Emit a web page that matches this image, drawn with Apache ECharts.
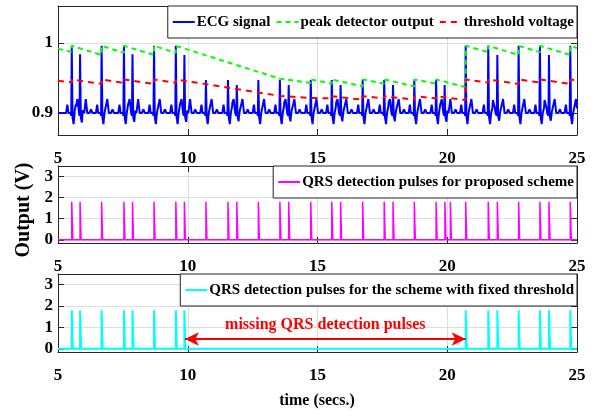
<!DOCTYPE html>
<html>
<head>
<meta charset="utf-8">
<script src="https://cdn.jsdelivr.net/npm/echarts@6/dist/echarts.min.js"></script>
<style>
  html, body { margin: 0; padding: 0; background: #fff; }
  #chart { width: 597px; height: 417px; }
</style>
</head>
<body>
<div id="chart"></div>
<script>
// beats (secs.) and their R-peak level (V)
var beatTimes = [5.53, 5.85, 6.68, 7.54, 7.87, 8.70, 9.54, 9.87, 10.70, 11.55, 11.89, 12.72, 13.55, 13.89, 14.74,
  15.55, 15.89, 16.74, 17.57, 17.91, 18.73, 19.57, 19.90, 20.71, 21.58, 21.93, 22.75, 23.57, 23.92, 24.74];
var beatPeaks = [0.996, 0.984, 0.996, 0.996, 0.984, 0.996, 0.996, 0.983, 0.947, 0.947, 0.940, 0.947, 0.947, 0.940, 0.947,
  0.947, 0.940, 0.947, 0.947, 0.940, 0.947, 0.947, 0.940, 0.996, 0.996, 0.983, 0.996, 0.996, 0.983, 0.996];
var ecgBase = 0.9;
// one beat: offset (s) and level above baseline (V); R knot takes the beat peak
var shapeDt = [-0.22, -0.17, -0.13, -0.09, -0.04, -0.02, 0, 0.03, 0.07, 0.11, 0.16, 0.22, 0.28, 0.36, 0.42, 0.48];
var shapeDv = [0, 0.012, 0, 0, 0, -0.004, 0, -0.006, -0.016, 0, 0, 0.02, 0, 0, 0.005, 0];
var rKnot = 6;

// peak detector output (green) and threshold voltage (red) break points
var envT = [5.0, 5.53, 5.53, 6.68, 6.68, 7.54, 7.54, 8.70, 8.70, 9.54, 9.54, 13.55, 14.74, 14.74, 15.55, 15.55,
  16.74, 16.74, 17.57, 17.57, 18.73, 18.73, 19.57, 19.57, 20.71, 20.71, 21.58, 21.58, 22.75, 22.75, 23.57, 23.57,
  24.74, 24.74, 25.0];
var peakV = [0.992, 0.987, 0.996, 0.983, 0.996, 0.986, 0.996, 0.983, 0.996, 0.986, 0.996, 0.949, 0.943, 0.948, 0.942, 0.948,
  0.938, 0.948, 0.942, 0.948, 0.938, 0.948, 0.942, 0.948, 0.937, 0.996, 0.987, 0.996, 0.983, 0.996, 0.987, 0.996,
  0.983, 0.996, 0.993];
var threshV = [0.946, 0.944, 0.948, 0.9415, 0.948, 0.943, 0.948, 0.9415, 0.948, 0.943, 0.948, 0.9245, 0.9215, 0.924, 0.921, 0.924,
  0.919, 0.924, 0.921, 0.924, 0.919, 0.924, 0.921, 0.924, 0.9185, 0.948, 0.9435, 0.948, 0.9415, 0.948, 0.9435, 0.948,
  0.9415, 0.948, 0.9465];

// QRS detection pulses
var proposedPulses = [5.53, 5.85, 6.68, 7.54, 7.87, 8.70, 9.54, 9.87, 10.70, 11.55, 11.89, 12.72, 13.55, 13.89, 14.74,
  15.55, 15.89, 16.74, 17.57, 17.91, 18.73, 19.57, 19.91, 20.12, 20.71, 21.58, 21.93, 22.75, 23.57, 23.92, 24.74];
var fixedPulses = [5.53, 5.85, 6.68, 7.54, 7.87, 8.70, 9.54, 9.87, 20.71, 21.58, 21.93, 22.75, 23.57, 23.92, 24.74];
var pulseHeight = 1.8;
var pulseWidth = 0.04;

// missing pulses annotation
var missSpan = [9.89, 20.71];
var missLevel = 0.46;

var ecgTicks = [0.9, 1];
var pulseTicks = [0, 1, 2, 3];

var FONT = 'Liberation Serif';

function shapeAt(dt, amp) {
  if (dt <= shapeDt[0] || dt >= shapeDt[shapeDt.length - 1]) return 0;
  for (var i = 0; i < shapeDt.length - 1; i++) {
    if (dt >= shapeDt[i] && dt <= shapeDt[i + 1]) {
      var a = i == rKnot ? amp : shapeDv[i];
      var b = (i + 1) == rKnot ? amp : shapeDv[i + 1];
      var f = (dt - shapeDt[i]) / (shapeDt[i + 1] - shapeDt[i]);
      return a + (b - a) * f;
    }
  }
  return 0;
}

function ecgData() {
  var knots = [5, 25];
  beatTimes.forEach(function (t) {
    shapeDt.forEach(function (d) { knots.push(+(t + d).toFixed(3)); });
  });
  knots = knots.filter(function (k) { return k >= 5 && k <= 25; });
  knots.sort(function (a, b) { return a - b; });
  var out = [];
  var last = null;
  knots.forEach(function (k) {
    if (k === last) return;
    last = k;
    var v = ecgBase;
    for (var b = 0; b < beatTimes.length; b++) {
      v += shapeAt(k - beatTimes[b], beatPeaks[b] - ecgBase);
    }
    out.push([k, v]);
  });
  return out;
}

function pulseData(times) {
  var out = [[5, 0]];
  times.forEach(function (t) {
    out.push([t, 0], [t, pulseHeight], [t + pulseWidth, pulseHeight], [t + pulseWidth, 0]);
  });
  out.push([25, 0]);
  return out;
}

function zip(a, b) {
  return a.map(function (v, i) { return [v, b[i]]; });
}

var labelFont = { fontFamily: FONT, fontWeight: 'bold', fontSize: 17, color: '#000' };
var axisColor = '#262626';

function xAx(grid, main) {
  return {
    type: 'value', gridIndex: grid, min: 5, max: 25, interval: 5,
    position: main ? 'bottom' : 'top',
    axisLine: { show: true, onZero: false, lineStyle: { color: axisColor, width: 1 } },
    axisTick: { show: true, inside: true, length: 6, lineStyle: { color: axisColor } },
    axisLabel: Object.assign({ show: main, margin: 15 }, labelFont),
    splitLine: { show: main, lineStyle: { color: '#dedede', width: 1 } }
  };
}

function yAx(grid, main, min, max, ticks) {
  return {
    type: 'value', gridIndex: grid, min: min, max: max,
    position: main ? 'left' : 'right',
    axisLine: { show: true, onZero: false, lineStyle: { color: axisColor, width: 1 } },
    axisTick: { show: true, inside: true, length: 6, customValues: ticks, lineStyle: { color: axisColor } },
    axisLabel: Object.assign({ show: main, margin: 5, customValues: ticks }, labelFont),
    splitLine: { show: main, lineStyle: { color: '#dedede', width: 1 } }
  };
}

var legendBase = {
  orient: 'horizontal', right: 20, itemWidth: 22, itemHeight: 14, itemGap: 5,
  padding: [7, 3, 7, 4], borderColor: '#222', borderWidth: 1, backgroundColor: '#fff',
  selectedMode: false,
  itemStyle: { opacity: 0 },
  textStyle: { fontFamily: FONT, fontWeight: 'bold', fontSize: 15, color: '#000', lineHeight: 18, padding: [0, 0, 0, -3] }
};

var chart = echarts.init(document.getElementById('chart'), null, { renderer: 'canvas' });
chart.setOption({
  animation: false,
  backgroundColor: '#fff',
  grid: [
    { left: 58, top: 6, width: 519, height: 129 },
    { left: 58, top: 166, width: 519, height: 77 },
    { left: 58, top: 274, width: 519, height: 78 }
  ],
  xAxis: [xAx(0, true), xAx(0, false), xAx(1, true), xAx(1, false), xAx(2, true), xAx(2, false)],
  yAxis: [
    yAx(0, true, 0.8686, 1.0529, ecgTicks), yAx(0, false, 0.8686, 1.0529, ecgTicks),
    yAx(1, true, -0.15, 3.5, pulseTicks), yAx(1, false, -0.15, 3.5, pulseTicks),
    yAx(2, true, -0.15, 3.5, pulseTicks), yAx(2, false, -0.15, 3.5, pulseTicks)
  ],
  legend: [
    Object.assign({}, legendBase, { top: 6, data: ['ECG signal', 'peak detector output', 'threshold voltage'] }),
    Object.assign({}, legendBase, { top: 166, data: ['QRS detection pulses for proposed scheme'] }),
    Object.assign({}, legendBase, { top: 274, data: ['QRS detection pulses for the scheme with fixed threshold'] })
  ],
  series: [
    {
      name: 'ECG signal', type: 'line', xAxisIndex: 0, yAxisIndex: 0, symbol: 'none',
      data: ecgData(), lineStyle: { color: '#0000ff', width: 2 }, itemStyle: { color: '#0000ff' }
    },
    {
      name: 'peak detector output', type: 'line', xAxisIndex: 0, yAxisIndex: 0, symbol: 'none',
      data: zip(envT, peakV), lineStyle: { color: '#00ff00', width: 2, type: [5, 4] }, itemStyle: { color: '#00ff00' }
    },
    {
      name: 'threshold voltage', type: 'line', xAxisIndex: 0, yAxisIndex: 0, symbol: 'none',
      data: zip(envT, threshV), lineStyle: { color: '#ff0000', width: 2, type: [6, 5] }, itemStyle: { color: '#ff0000' }
    },
    {
      name: 'QRS detection pulses for proposed scheme', type: 'line', xAxisIndex: 2, yAxisIndex: 2, symbol: 'none',
      data: pulseData(proposedPulses), lineStyle: { color: '#ff00ff', width: 1.5 }, itemStyle: { color: '#ff00ff' }
    },
    {
      name: 'QRS detection pulses for the scheme with fixed threshold', type: 'line', xAxisIndex: 4, yAxisIndex: 4,
      symbol: 'none', data: pulseData(fixedPulses), lineStyle: { color: '#00ffff', width: 2 }, itemStyle: { color: '#00ffff' },
      markLine: {
        silent: true, symbol: ['arrow', 'arrow'], symbolSize: [10, 14],
        lineStyle: { color: '#ff0000', width: 2, type: 'solid' },
        label: {
          show: true, position: 'middle', distance: 6, formatter: 'missing QRS detection pulses',
          color: '#ff0000', fontFamily: FONT, fontWeight: 'bold', fontSize: 16
        },
        data: [[{ coord: [missSpan[0], missLevel] }, { coord: [missSpan[1], missLevel] }]]
      }
    }
  ],
  graphic: [
    {
      type: 'text', x: 24, y: 210, rotation: Math.PI / 2,
      style: { text: 'Output (V)', font: 'bold 20px "Liberation Serif"', fill: '#000', align: 'center', verticalAlign: 'middle' }
    },
    {
      type: 'text', x: 317, y: 401,
      style: { text: 'time (secs.)', font: 'bold 16px "Liberation Serif"', fill: '#000', align: 'center', verticalAlign: 'middle' }
    }
  ]
});
</script>
</body>
</html>
